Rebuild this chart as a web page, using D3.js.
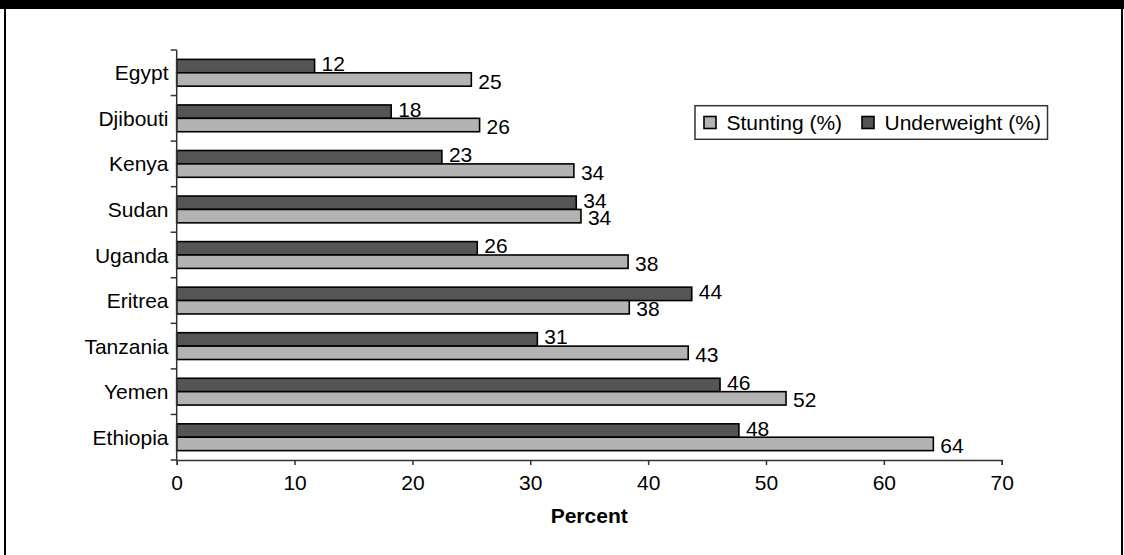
<!DOCTYPE html>
<html>
<head>
<meta charset="utf-8">
<script src="https://cdn.jsdelivr.net/npm/d3@7"></script>
<style>
  html, body { margin: 0; padding: 0; background: #fff; }
  svg { display: block; font-family: "Liberation Sans", Arial, sans-serif; }
</style>
</head>
<body>
<svg id="chart" width="1124" height="555"></svg>
<script>
const countries = ["Egypt", "Djibouti", "Kenya", "Sudan", "Uganda", "Eritrea", "Tanzania", "Yemen", "Ethiopia"];
const stunting = [25.0, 25.7, 33.7, 34.3, 38.3, 38.4, 43.4, 51.7, 64.2];
const underweight = [11.7, 18.2, 22.5, 33.9, 25.5, 43.7, 30.6, 46.1, 47.7];
const stuntingLabels = [25, 26, 34, 34, 38, 38, 43, 52, 64];
const underweightLabels = [12, 18, 23, 34, 26, 44, 31, 46, 48];
const xTicks = [0, 10, 20, 30, 40, 50, 60, 70];
const seriesNames = ["Underweight (%)", "Stunting (%)"];
const legendNames = ["Stunting (%)", "Underweight (%)"];

const colors = { "Stunting (%)": "#b3b3b3", "Underweight (%)": "#555555" };

const svg = d3.select("#chart");
const W = 1124, H = 555;

// frame
svg.append("rect").attr("x", 0).attr("y", 0).attr("width", W).attr("height", 9).attr("fill", "#000");
svg.append("rect").attr("x", 4).attr("y", 9).attr("width", 2).attr("height", H - 9).attr("fill", "#000");
svg.append("rect").attr("x", 1121).attr("y", 9).attr("width", 2).attr("height", H - 9).attr("fill", "#000");

const x0 = 176.7, x1 = 1001.7, yTop = 50, yBot = 460;
const x = d3.scaleLinear().domain([0, 70]).range([x0, x1]);
const y = d3.scaleBand().domain(countries).range([yTop, yBot]).padding(0);
const yInner = d3.scaleBand().domain(seriesNames).range([0, y.bandwidth()]).paddingInner(0).paddingOuter(0.7);

const rows = countries.map((c, i) => ({
  country: c,
  vals: [
    { s: "Underweight (%)", v: underweight[i], lab: underweightLabels[i] },
    { s: "Stunting (%)", v: stunting[i], lab: stuntingLabels[i] }
  ]
}));

const fontSize = 21;

// bars
const g = svg.append("g");
const grp = g.selectAll("g.row").data(rows).join("g")
  .attr("transform", d => `translate(0,${y(d.country)})`);

grp.selectAll("rect").data(d => d.vals).join("rect")
  .attr("x", x(0))
  .attr("y", d => yInner(d.s))
  .attr("width", d => x(d.v) - x(0))
  .attr("height", yInner.bandwidth())
  .attr("fill", d => colors[d.s])
  .attr("stroke", "#000")
  .attr("stroke-width", 1.6);

grp.selectAll("text").data(d => d.vals).join("text")
  .attr("x", d => x(d.v) + 7)
  .attr("y", d => yInner(d.s) + yInner.bandwidth() / 2 + (d.s === "Underweight (%)" ? -2.5 : 1.5))
  .attr("dy", "0.36em")
  .attr("font-size", fontSize)
  .attr("fill", "#000")
  .text(d => d.lab);

// y axis
const yAxis = svg.append("g");
yAxis.append("line").attr("x1", x0).attr("x2", x0).attr("y1", yTop).attr("y2", yBot)
  .attr("stroke", "#333").attr("stroke-width", 1.5);
const bounds = countries.map(c => y(c)).concat([yBot]);
yAxis.selectAll("line.tk").data(bounds).join("line").attr("class", "tk")
  .attr("x1", x0 - 6).attr("x2", x0).attr("y1", d => d).attr("y2", d => d)
  .attr("stroke", "#333").attr("stroke-width", 1.5);
yAxis.selectAll("text").data(countries).join("text")
  .attr("x", 168.5)
  .attr("y", d => y(d) + y.bandwidth() / 2)
  .attr("dy", "0.36em")
  .attr("text-anchor", "end")
  .attr("font-size", fontSize)
  .attr("fill", "#000")
  .text(d => d);

// x axis
const xAxis = svg.append("g").attr("transform", `translate(0,${yBot})`)
  .call(d3.axisBottom(x).tickValues(xTicks).tickSize(5).tickPadding(0).tickFormat(d3.format("d")));
xAxis.select(".domain").attr("stroke", "#333").attr("stroke-width", 1.5);
xAxis.selectAll(".tick line").attr("stroke", "#333").attr("stroke-width", 1.5);
xAxis.selectAll(".tick text")
  .attr("font-family", "'Liberation Sans', Arial, sans-serif")
  .attr("font-size", fontSize).attr("fill", "#000")
  .attr("y", 30).attr("dy", 0);

svg.append("text")
  .attr("x", (x0 + x1) / 2).attr("y", 522.5)
  .attr("text-anchor", "middle")
  .attr("font-size", fontSize).attr("font-weight", "bold")
  .text("Percent");

// legend
const leg = svg.append("g");
leg.append("rect").attr("x", 695).attr("y", 105.7).attr("width", 352.5).attr("height", 33.6)
  .attr("fill", "#fff").attr("stroke", "#333").attr("stroke-width", 1.5);
const legX = [704, 862];
leg.selectAll("rect.sw").data(legendNames).join("rect").attr("class", "sw")
  .attr("x", (d, i) => legX[i]).attr("y", 116.5).attr("width", 12).attr("height", 12)
  .attr("fill", d => colors[d]).attr("stroke", "#000").attr("stroke-width", 1.6);
leg.selectAll("text").data(legendNames).join("text")
  .attr("x", (d, i) => legX[i] + 22.5).attr("y", 122.5).attr("dy", "0.36em")
  .attr("font-size", fontSize).attr("fill", "#000")
  .text(d => d);
</script>
</body>
</html>
